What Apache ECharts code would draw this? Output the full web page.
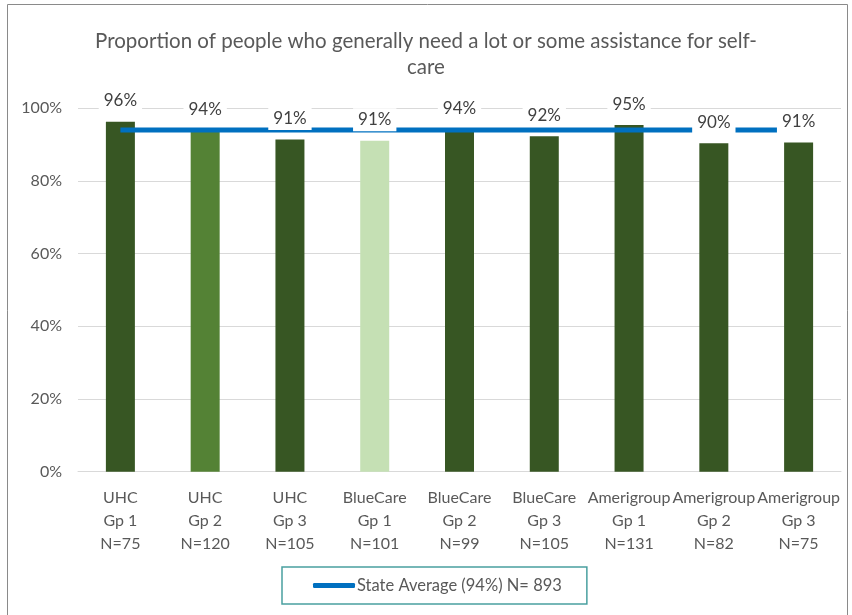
<!DOCTYPE html>
<html>
<head>
<meta charset="utf-8">
<script src="https://cdn.jsdelivr.net/npm/echarts@6/dist/echarts.min.js"></script>
<style>
html,body{margin:0;padding:0;background:#fff;}
#chart{width:852px;height:615px;}
</style>
</head>
<body>
<div id="chart"></div>
<script>
var plans = ['UHC','UHC','UHC','BlueCare','BlueCare','BlueCare','Amerigroup','Amerigroup','Amerigroup'];
var groups = ['Gp 1','Gp 2','Gp 3','Gp 1','Gp 2','Gp 3','Gp 1','Gp 2','Gp 3'];
var counts = [75,120,105,101,99,105,131,82,75];
var values = [96.3,94.0,91.4,91.1,94.1,92.3,95.4,90.4,90.6];
var stateAverage = [94,94,94,94,94,94,94,94,94];
var barColors = ['#375623','#548235','#375623','#C5E0B4','#375623','#375623','#375623','#375623','#375623'];
var yTicks = [0,20,40,60,80,100];
var legendName = 'State Average (94%) N= 893';
var titleText = 'Proportion of people who generally need a lot or some assistance for self-\ncare';

var categories = plans.map(function(p,i){ return p + '\n' + groups[i] + '\nN=' + counts[i]; });
var FONT = 'Lato';
var TXT = '#595959';

var chart = echarts.init(document.getElementById('chart'), null, {renderer:'canvas'});
chart.setOption({
  animation:false,
  backgroundColor:'#fff',
  textStyle:{fontFamily:FONT},
  graphic:[{
    type:'rect', silent:true, z:-10,
    shape:{x:7.5,y:4.5,width:840,height:700},
    style:{fill:'none',stroke:'#8a8a8a',lineWidth:1}
  }],
  title:{
    text:titleText, left:'center', top:23,
    textStyle:{fontFamily:FONT,fontSize:20.5,fontWeight:'normal',color:TXT,lineHeight:26}
  },
  legend:{
    data:[legendName], bottom:11, left:282,
    icon:'roundRect', itemWidth:42, itemHeight:5, itemGap:4,
    borderColor:'#4aa0a0', borderWidth:1.5, borderRadius:0,
    padding:[10,25,10,31],
    textStyle:{fontFamily:FONT,fontSize:16.5,color:TXT,padding:[0,0,0,-3]}
  },
  grid:{left:78,right:11,top:108.3,bottom:143.3,containLabel:false},
  xAxis:{
    type:'category', data:categories,
    axisLine:{lineStyle:{color:'#d9d9d9',width:1}},
    axisTick:{show:false},
    axisLabel:{interval:0,fontFamily:FONT,fontSize:16,color:TXT,lineHeight:23,margin:15}
  },
  yAxis:{
    type:'value', min:0, max:100, interval:20,
    axisLine:{show:false}, axisTick:{show:false},
    splitLine:{lineStyle:{color:'#d9d9d9',width:1}},
    axisLabel:{fontFamily:FONT,fontSize:16,color:TXT,margin:16,formatter:function(v){return yTicks.indexOf(v)>=0? v+'%':'';}}
  },
  series:[
    {
      type:'bar', name:'Proportion', z:2, barWidth:29,
      data:values.map(function(v,i){return {value:v,itemStyle:{color:barColors[i]}};})
    },
    {
      type:'line', name:legendName, z:3, data:stateAverage,
      symbol:'none', lineStyle:{color:'#0070C0',width:5}, itemStyle:{color:'#0070C0'}
    },
    {
      type:'scatter', name:'labels', z:5, data:values,
      symbolSize:1, itemStyle:{color:'rgba(255,255,255,0)',opacity:1}, silent:true,
      label:{show:true,position:'top',distance:9,fontFamily:FONT,fontSize:17,color:'#404040',
        backgroundColor:'#ffffff',padding:[3,5,3,5],opacity:1,
        formatter:function(p){return Math.round(p.value)+'%';}}
    }
  ]
});
</script>
</body>
</html>
